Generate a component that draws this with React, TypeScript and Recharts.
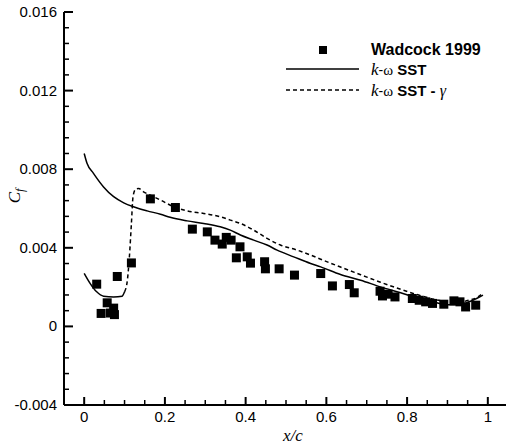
import React from 'react';
import { ComposedChart, Line, Scatter, XAxis, YAxis, Legend } from 'recharts';

// Wadcock 1999 measurements
const wadcockX = [
  0.031, 0.042, 0.057, 0.065, 0.073, 0.075, 0.082, 0.117, 0.164, 0.226, 0.268, 0.305, 0.324, 0.342,
  0.352, 0.364, 0.377, 0.386, 0.404, 0.412, 0.447, 0.449, 0.483, 0.521, 0.586, 0.615, 0.657, 0.669,
  0.733, 0.739, 0.753, 0.77, 0.813, 0.83, 0.846, 0.863, 0.891, 0.916, 0.931, 0.945, 0.97,
];
const wadcockCf = [
  0.00215, 0.00066, 0.0012, 0.00068, 0.00093, 0.0006, 0.00254, 0.00323, 0.00649, 0.00605, 0.00495,
  0.00481, 0.00439, 0.00419, 0.00453, 0.00439, 0.00349, 0.00405, 0.00354, 0.00322, 0.00329, 0.00293,
  0.00293, 0.00261, 0.00269, 0.00206, 0.00213, 0.00171, 0.00179, 0.00155, 0.00164, 0.0015, 0.00142,
  0.00133, 0.00125, 0.00117, 0.00113, 0.0013, 0.00125, 0.00099, 0.00108,
];

// k-w SST (fully turbulent)
const sstX = [
  0, 0.007, 0.023, 0.048, 0.073, 0.098, 0.122, 0.156, 0.189, 0.213, 0.255, 0.296, 0.337, 0.362,
  0.387, 0.42, 0.453, 0.478, 0.519, 0.561, 0.586, 0.635, 0.685, 0.734, 0.784, 0.817, 0.859, 0.9,
  0.933, 0.963, 0.988,
];
const sstCf = [
  0.0088, 0.0083, 0.00779, 0.0071, 0.0066, 0.00629, 0.00609, 0.00588, 0.00571, 0.00555, 0.00537,
  0.00524, 0.00507, 0.0049, 0.00465, 0.00439, 0.00414, 0.00388, 0.00354, 0.0032, 0.00303, 0.00264,
  0.00235, 0.00201, 0.00171, 0.0015, 0.00128, 0.0011, 0.00113, 0.00133, 0.00159,
];

// k-w SST - gamma, laminar part before transition
const gammaLamX = [0, 0.015, 0.031, 0.048, 0.073, 0.094, 0.1];
const gammaLamCf = [0.0027, 0.00218, 0.00176, 0.00154, 0.0015, 0.00154, 0.00176];

// k-w SST - gamma, transition and turbulent part
const gammaX = [
  0.1, 0.107, 0.112, 0.117, 0.121, 0.127, 0.135, 0.147, 0.164, 0.189, 0.222, 0.255, 0.296, 0.337,
  0.362, 0.387, 0.42, 0.453, 0.486, 0.528, 0.561, 0.586, 0.635, 0.685, 0.734, 0.784, 0.834, 0.883,
  0.92, 0.953, 0.975, 0.988,
];
const gammaCf = [
  0.00176, 0.00235, 0.00354, 0.00524, 0.0066, 0.00697, 0.00702, 0.00685, 0.00668, 0.00643, 0.00609,
  0.00588, 0.00575, 0.00558, 0.00541, 0.00524, 0.0049, 0.00448, 0.00414, 0.00388, 0.00363, 0.00342,
  0.00302, 0.00263, 0.00225, 0.00189, 0.00156, 0.00131, 0.00121, 0.00133, 0.00149, 0.00169,
];

const xMajor = [0, 0.2, 0.4, 0.6, 0.8, 1];
const xMinor = [0.05, 0.1, 0.15, 0.25, 0.3, 0.35, 0.45, 0.5, 0.55, 0.65, 0.7, 0.75, 0.85, 0.9, 0.95];
const yMajor = [-0.004, 0, 0.004, 0.008, 0.012, 0.016];
const yMinor = [
  -0.0032, -0.0024, -0.0016, -0.0008, 0.0008, 0.0016, 0.0024, 0.0032, 0.0048, 0.0056, 0.0064, 0.0072,
  0.0088, 0.0096, 0.0104, 0.0112, 0.0128, 0.0136, 0.0144, 0.0152,
];

const legendNames = ['Wadcock 1999', 'SST', 'SST - '];

const zip = (xs: number[], ys: number[]) => xs.map((x, i) => ({ x, cf: ys[i] }));
const wadcock = zip(wadcockX, wadcockCf);
const sst = zip(sstX, sstCf);
const gammaLam = zip(gammaLamX, gammaLamCf);
const gamma = zip(gammaX, gammaCf);

const xTicks = [...xMajor, ...xMinor].sort((a, b) => a - b);
const yTicks = [...yMajor, ...yMinor].sort((a, b) => a - b);

const SANS = '"Liberation Sans", Arial, Helvetica, sans-serif';
const SERIF = '"Liberation Serif", "Times New Roman", serif';

const fmtY = (v: number) => (v === 0 ? '0' : v.toFixed(3));

const BottomTick = ({ x, y, payload }: any) => {
  const major = xMajor.includes(payload.value);
  return (
    <g>
      <line x1={x} x2={x} y1={y} y2={y - (major ? 8 : 5)} stroke="#000" strokeWidth={major ? 2 : 1.5} />
      {major && (
        <text x={x} y={y + 17} textAnchor="middle" fontSize={15} fontFamily={SANS} fill="#000">
          {String(payload.value)}
        </text>
      )}
    </g>
  );
};

const TopTick = ({ x, y, payload }: any) => {
  const major = xMajor.includes(payload.value);
  return <line x1={x} x2={x} y1={y} y2={y + (major ? 8 : 5)} stroke="#000" strokeWidth={major ? 2 : 1.5} />;
};

const LeftTick = ({ x, y, payload }: any) => {
  const major = yMajor.includes(payload.value);
  return (
    <g>
      <line x1={x} x2={x + (major ? 9 : 5)} y1={y} y2={y} stroke="#000" strokeWidth={major ? 2 : 1.5} />
      {major && (
        <text x={x - 7} y={y + 5} textAnchor="end" fontSize={15} fontFamily={SANS} fill="#000">
          {fmtY(payload.value)}
        </text>
      )}
    </g>
  );
};

const RightTick = ({ x, y, payload }: any) => {
  const major = yMajor.includes(payload.value);
  return <line x1={x} x2={x - (major ? 9 : 5)} y1={y} y2={y} stroke="#000" strokeWidth={major ? 2 : 1.5} />;
};

const Square = (props: any) => {
  const { cx, cy } = props;
  if (cx == null || cy == null) return null;
  return <rect x={cx - 4.5} y={cy - 4.5} width={9} height={9} fill="#000" />;
};

const Overlay = () => (
  <svg width={506} height={447} style={{ position: 'absolute', left: 0, top: 0, pointerEvents: 'none' }}>
    {/* legend */}
    <rect x={319} y={46} width={8} height={8} fill="#000" />
    <text x={371} y={55} fontSize={16} fontWeight="bold" fontFamily={SANS} fill="#000">
      {legendNames[0]}
    </text>
    <line x1={286} x2={359} y1={69} y2={69} stroke="#000" strokeWidth={1.5} />
    <text x={371} y={75} fill="#000">
      <tspan fontFamily={SERIF} fontStyle="italic" fontSize={17}>k</tspan>
      <tspan fontFamily={SANS} fontSize={14}>-</tspan>
      <tspan fontFamily={SERIF} fontSize={15}>ω</tspan>
      <tspan fontFamily={SANS} fontWeight="bold" fontSize={15}> {legendNames[1]}</tspan>
    </text>
    <line x1={286} x2={359} y1={90} y2={90} stroke="#000" strokeWidth={1.5} strokeDasharray="4 3" />
    <text x={371} y={96} fill="#000">
      <tspan fontFamily={SERIF} fontStyle="italic" fontSize={17}>k</tspan>
      <tspan fontFamily={SANS} fontSize={14}>-</tspan>
      <tspan fontFamily={SERIF} fontSize={15}>ω</tspan>
      <tspan fontFamily={SANS} fontWeight="bold" fontSize={15}> {legendNames[2]}</tspan>
      <tspan fontFamily={SERIF} fontStyle="italic" fontSize={16}>γ</tspan>
    </text>
    {/* axis titles */}
    <text x={293} y={441} textAnchor="middle" fontFamily={SERIF} fontStyle="italic" fontSize={17} fill="#000">
      x/c
    </text>
    <text x={20} y={196} transform="rotate(-90 20 196)" textAnchor="middle" fontFamily={SERIF} fontStyle="italic" fontSize={17} fill="#000">
      C<tspan fontSize={12} dy={4}>f</tspan>
    </text>
  </svg>
);

export default function App() {
  return (
    <div style={{ position: 'absolute', left: 0, top: 0, width: 506, height: 447, background: '#fff' }}>
      <ComposedChart width={506} height={447} margin={{ top: 12, right: -2, bottom: 0, left: 0 }}>
        <XAxis
          xAxisId="b"
          type="number"
          dataKey="x"
          domain={[-0.05, 1.05]}
          ticks={xTicks}
          interval={0}
          allowDataOverflow
          height={42}
          tickSize={0}
          tickMargin={0}
          tickLine={false}
          axisLine={{ stroke: '#000', strokeWidth: 2 }}
          tick={<BottomTick />}
        />
        <XAxis
          xAxisId="t"
          orientation="top"
          type="number"
          dataKey="x"
          domain={[-0.05, 1.05]}
          ticks={xTicks}
          interval={0}
          allowDataOverflow
          height={0}
          tickSize={0}
          tickMargin={0}
          tickLine={false}
          axisLine={{ stroke: '#000', strokeWidth: 2 }}
          tick={<TopTick />}
        />
        <YAxis
          yAxisId="l"
          type="number"
          dataKey="cf"
          domain={[-0.004, 0.016]}
          ticks={yTicks}
          interval={0}
          allowDataOverflow
          width={64}
          tickSize={0}
          tickMargin={0}
          tickLine={false}
          axisLine={{ stroke: '#000', strokeWidth: 2 }}
          tick={<LeftTick />}
        />
        <YAxis
          yAxisId="r"
          orientation="right"
          type="number"
          dataKey="cf"
          domain={[-0.004, 0.016]}
          ticks={yTicks}
          interval={0}
          allowDataOverflow
          width={0}
          tickSize={0}
          tickMargin={0}
          tickLine={false}
          axisLine={{ stroke: '#000', strokeWidth: 2 }}
          tick={<RightTick />}
        />
        <Line
          xAxisId="b"
          yAxisId="l"
          data={sst}
          dataKey="cf"
          type="monotone"
          stroke="#000"
          strokeWidth={1.5}
          dot={false}
          activeDot={false}
          isAnimationActive={false}
        />
        <Line
          xAxisId="b"
          yAxisId="l"
          data={gammaLam}
          dataKey="cf"
          type="monotone"
          stroke="#000"
          strokeWidth={1.5}
          dot={false}
          activeDot={false}
          legendType="none"
          isAnimationActive={false}
        />
        <Line
          xAxisId="b"
          yAxisId="l"
          data={gamma}
          dataKey="cf"
          type="monotone"
          stroke="#000"
          strokeWidth={1.5}
          strokeDasharray="4 3"
          dot={false}
          activeDot={false}
          isAnimationActive={false}
        />
        <Scatter
          xAxisId="b"
          yAxisId="l"
          data={wadcock}
          dataKey="cf"
          shape={<Square />}
          isAnimationActive={false}
        />
        <Legend
          layout="vertical"
          align="center"
          verticalAlign="middle"
          wrapperStyle={{ left: 0, top: 0, width: 506, height: 447 }}
          content={() => <Overlay />}
        />
      </ComposedChart>
    </div>
  );
}
